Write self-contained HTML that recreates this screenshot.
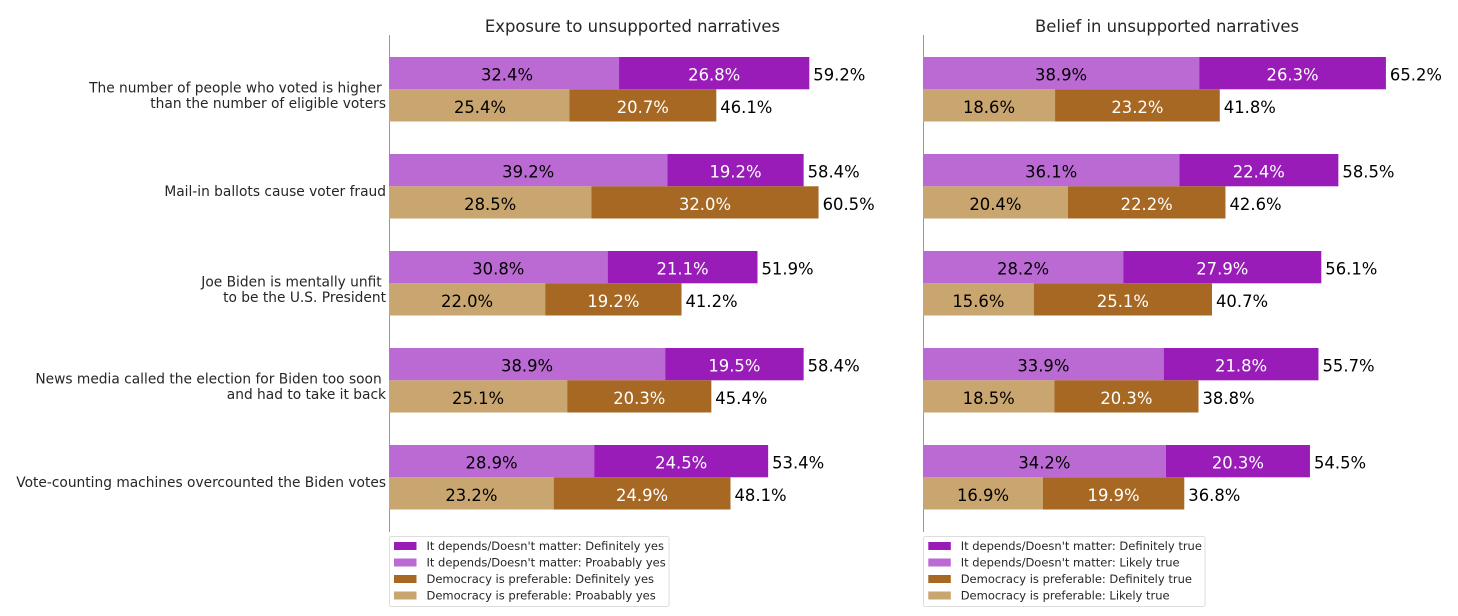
<!DOCTYPE html>
<html>
<head>
<meta charset="utf-8">
<style>
html,body{margin:0;padding:0;background:#fff;}
svg{display:block;}
text{font-family:"DejaVu Sans","Liberation Sans",sans-serif;}
.v{font-size:16.4px;text-anchor:middle;fill:#000;}
.w{font-size:16.4px;text-anchor:middle;fill:#fff;}
.t{font-size:16.4px;text-anchor:start;fill:#000;}
.y{font-size:13.77px;text-anchor:end;fill:#262626;}
.ti{font-size:16.4px;text-anchor:middle;fill:#262626;}
.lg{font-size:11.5px;fill:#262626;}
</style>
</head>
<body>
<svg width="1458" height="616" viewBox="0 0 1458 616" xmlns="http://www.w3.org/2000/svg">
<rect width="1458" height="616" fill="#fff"/>

<!-- titles -->
<text class="ti" x="632.5" y="32">Exposure to unsupported narratives</text>
<text class="ti" x="1167" y="32">Belief in unsupported narratives</text>

<!-- axis lines -->
<line x1="389.5" y1="35" x2="389.5" y2="532" stroke="#999" stroke-width="1"/>
<line x1="923.5" y1="35" x2="923.5" y2="532" stroke="#999" stroke-width="1"/>

<!-- y labels -->
<text class="y" x="381.7" y="92.5">The number of people who voted is higher</text>
<text class="y" x="386" y="108">than the number of eligible voters</text>
<text class="y" x="386" y="196">Mail-in ballots cause voter fraud</text>
<text class="y" x="381.7" y="286.5">Joe Biden is mentally unfit</text>
<text class="y" x="386" y="302">to be the U.S. President</text>
<text class="y" x="381.7" y="383.5">News media called the election for Biden too soon</text>
<text class="y" x="386" y="399">and had to take it back</text>
<text class="y" x="386" y="486.8">Vote-counting machines overcounted the Biden votes</text>

<!-- LEFT PANEL -->
<g>
<!-- G1 -->
<rect x="389" y="57" width="230.04" height="32.3" fill="#bb6ad4"/>
<rect x="619.04" y="57" width="190.28" height="32.3" fill="#991cb8"/>
<rect x="389" y="89.3" width="180.34" height="32.2" fill="#c9a56f"/>
<rect x="569.34" y="89.3" width="146.97" height="32.2" fill="#a66823"/>
<text class="v" x="507" y="80.5">32.4%</text>
<text class="w" x="714.2" y="80.5">26.8%</text>
<text class="t" x="813.3" y="80.5">59.2%</text>
<text class="v" x="480" y="112.8">25.4%</text>
<text class="w" x="642.8" y="112.8">20.7%</text>
<text class="t" x="720.3" y="112.8">46.1%</text>
<!-- G2 -->
<rect x="389" y="154" width="278.32" height="32.3" fill="#bb6ad4"/>
<rect x="667.32" y="154" width="136.32" height="32.3" fill="#991cb8"/>
<rect x="389" y="186.3" width="202.35" height="32.2" fill="#c9a56f"/>
<rect x="591.35" y="186.3" width="227.2" height="32.2" fill="#a66823"/>
<text class="v" x="528.2" y="177.5">39.2%</text>
<text class="w" x="735.5" y="177.5">19.2%</text>
<text class="t" x="807.6" y="177.5">58.4%</text>
<text class="v" x="490.2" y="209.8">28.5%</text>
<text class="w" x="705" y="209.8">32.0%</text>
<text class="t" x="822.6" y="209.8">60.5%</text>
<!-- G3 -->
<rect x="389" y="251" width="218.68" height="32.3" fill="#bb6ad4"/>
<rect x="607.68" y="251" width="149.81" height="32.3" fill="#991cb8"/>
<rect x="389" y="283.3" width="156.2" height="32.2" fill="#c9a56f"/>
<rect x="545.2" y="283.3" width="136.32" height="32.2" fill="#a66823"/>
<text class="v" x="498.3" y="274.5">30.8%</text>
<text class="w" x="682.6" y="274.5">21.1%</text>
<text class="t" x="761.5" y="274.5">51.9%</text>
<text class="v" x="467.1" y="306.8">22.0%</text>
<text class="w" x="613.4" y="306.8">19.2%</text>
<text class="t" x="685.5" y="306.8">41.2%</text>
<!-- G4 -->
<rect x="389" y="348" width="276.19" height="32.3" fill="#bb6ad4"/>
<rect x="665.19" y="348" width="138.45" height="32.3" fill="#991cb8"/>
<rect x="389" y="380.3" width="178.21" height="32.2" fill="#c9a56f"/>
<rect x="567.21" y="380.3" width="144.13" height="32.2" fill="#a66823"/>
<text class="v" x="527.1" y="371.5">38.9%</text>
<text class="w" x="734.4" y="371.5">19.5%</text>
<text class="t" x="807.6" y="371.5">58.4%</text>
<text class="v" x="478.1" y="403.8">25.1%</text>
<text class="w" x="639.3" y="403.8">20.3%</text>
<text class="t" x="715.3" y="403.8">45.4%</text>
<!-- G5 -->
<rect x="389" y="445" width="205.19" height="32.3" fill="#bb6ad4"/>
<rect x="594.19" y="445" width="173.95" height="32.3" fill="#991cb8"/>
<rect x="389" y="477.3" width="164.72" height="32.2" fill="#c9a56f"/>
<rect x="553.72" y="477.3" width="176.79" height="32.2" fill="#a66823"/>
<text class="v" x="491.6" y="468.5">28.9%</text>
<text class="w" x="681.2" y="468.5">24.5%</text>
<text class="t" x="772.1" y="468.5">53.4%</text>
<text class="v" x="471.4" y="500.8">23.2%</text>
<text class="w" x="642.1" y="500.8">24.9%</text>
<text class="t" x="734.5" y="500.8">48.1%</text>
</g>

<!-- RIGHT PANEL -->
<g>
<!-- G1 -->
<rect x="923" y="57" width="276.19" height="32.3" fill="#bb6ad4"/>
<rect x="1199.19" y="57" width="186.73" height="32.3" fill="#991cb8"/>
<rect x="923" y="89.3" width="132.06" height="32.2" fill="#c9a56f"/>
<rect x="1055.06" y="89.3" width="164.72" height="32.2" fill="#a66823"/>
<text class="v" x="1061.1" y="80.5">38.9%</text>
<text class="w" x="1292.6" y="80.5">26.3%</text>
<text class="t" x="1389.9" y="80.5">65.2%</text>
<text class="v" x="989" y="112.8">18.6%</text>
<text class="w" x="1137.4" y="112.8">23.2%</text>
<text class="t" x="1223.8" y="112.8">41.8%</text>
<!-- G2 -->
<rect x="923" y="154" width="256.31" height="32.3" fill="#bb6ad4"/>
<rect x="1179.31" y="154" width="159.04" height="32.3" fill="#991cb8"/>
<rect x="923" y="186.3" width="144.84" height="32.2" fill="#c9a56f"/>
<rect x="1067.84" y="186.3" width="157.62" height="32.2" fill="#a66823"/>
<text class="v" x="1051.2" y="177.5">36.1%</text>
<text class="w" x="1258.8" y="177.5">22.4%</text>
<text class="t" x="1342.4" y="177.5">58.5%</text>
<text class="v" x="995.4" y="209.8">20.4%</text>
<text class="w" x="1146.7" y="209.8">22.2%</text>
<text class="t" x="1229.5" y="209.8">42.6%</text>
<!-- G3 -->
<rect x="923" y="251" width="200.22" height="32.3" fill="#bb6ad4"/>
<rect x="1123.22" y="251" width="198.09" height="32.3" fill="#991cb8"/>
<rect x="923" y="283.3" width="110.76" height="32.2" fill="#c9a56f"/>
<rect x="1033.76" y="283.3" width="178.21" height="32.2" fill="#a66823"/>
<text class="v" x="1023.1" y="274.5">28.2%</text>
<text class="w" x="1222.3" y="274.5">27.9%</text>
<text class="t" x="1325.3" y="274.5">56.1%</text>
<text class="v" x="978.4" y="306.8">15.6%</text>
<text class="w" x="1122.9" y="306.8">25.1%</text>
<text class="t" x="1216" y="306.8">40.7%</text>
<!-- G4 -->
<rect x="923" y="348" width="240.69" height="32.3" fill="#bb6ad4"/>
<rect x="1163.69" y="348" width="154.78" height="32.3" fill="#991cb8"/>
<rect x="923" y="380.3" width="131.35" height="32.2" fill="#c9a56f"/>
<rect x="1054.35" y="380.3" width="144.13" height="32.2" fill="#a66823"/>
<text class="v" x="1043.4" y="371.5">33.9%</text>
<text class="w" x="1241.1" y="371.5">21.8%</text>
<text class="t" x="1322.5" y="371.5">55.7%</text>
<text class="v" x="988.7" y="403.8">18.5%</text>
<text class="w" x="1126.4" y="403.8">20.3%</text>
<text class="t" x="1202.5" y="403.8">38.8%</text>
<!-- G5 -->
<rect x="923" y="445" width="242.82" height="32.3" fill="#bb6ad4"/>
<rect x="1165.82" y="445" width="144.13" height="32.3" fill="#991cb8"/>
<rect x="923" y="477.3" width="119.99" height="32.2" fill="#c9a56f"/>
<rect x="1042.99" y="477.3" width="141.29" height="32.2" fill="#a66823"/>
<text class="v" x="1044.4" y="468.5">34.2%</text>
<text class="w" x="1237.9" y="468.5">20.3%</text>
<text class="t" x="1314" y="468.5">54.5%</text>
<text class="v" x="983" y="500.8">16.9%</text>
<text class="w" x="1113.6" y="500.8">19.9%</text>
<text class="t" x="1188.3" y="500.8">36.8%</text>
</g>

<!-- LEFT LEGEND -->
<rect x="389.5" y="536.5" width="279.5" height="70" rx="2" ry="2" fill="#fff" stroke="#dddddd" stroke-width="1"/>
<rect x="394" y="542" width="22.5" height="8" fill="#991cb8"/>
<rect x="394" y="558.5" width="22.5" height="8" fill="#bb6ad4"/>
<rect x="394" y="575" width="22.5" height="8" fill="#a66823"/>
<rect x="394" y="591.5" width="22.5" height="8" fill="#c9a56f"/>
<text class="lg" x="426.5" y="550.1">It depends/Doesn't matter: Definitely yes</text>
<text class="lg" x="426.5" y="566.6">It depends/Doesn't matter: Proabably yes</text>
<text class="lg" x="426.5" y="583.1">Democracy is preferable: Definitely yes</text>
<text class="lg" x="426.5" y="599.6">Democracy is preferable: Proabably yes</text>

<!-- RIGHT LEGEND -->
<rect x="923.5" y="536.5" width="281.5" height="70" rx="2" ry="2" fill="#fff" stroke="#dddddd" stroke-width="1"/>
<rect x="928.3" y="542" width="22.5" height="8" fill="#991cb8"/>
<rect x="928.3" y="558.5" width="22.5" height="8" fill="#bb6ad4"/>
<rect x="928.3" y="575" width="22.5" height="8" fill="#a66823"/>
<rect x="928.3" y="591.5" width="22.5" height="8" fill="#c9a56f"/>
<text class="lg" x="960.7" y="550.1">It depends/Doesn't matter: Definitely true</text>
<text class="lg" x="960.7" y="566.6">It depends/Doesn't matter: Likely true</text>
<text class="lg" x="960.7" y="583.1">Democracy is preferable: Definitely true</text>
<text class="lg" x="960.7" y="599.6">Democracy is preferable: Likely true</text>
</svg>
</body>
</html>
